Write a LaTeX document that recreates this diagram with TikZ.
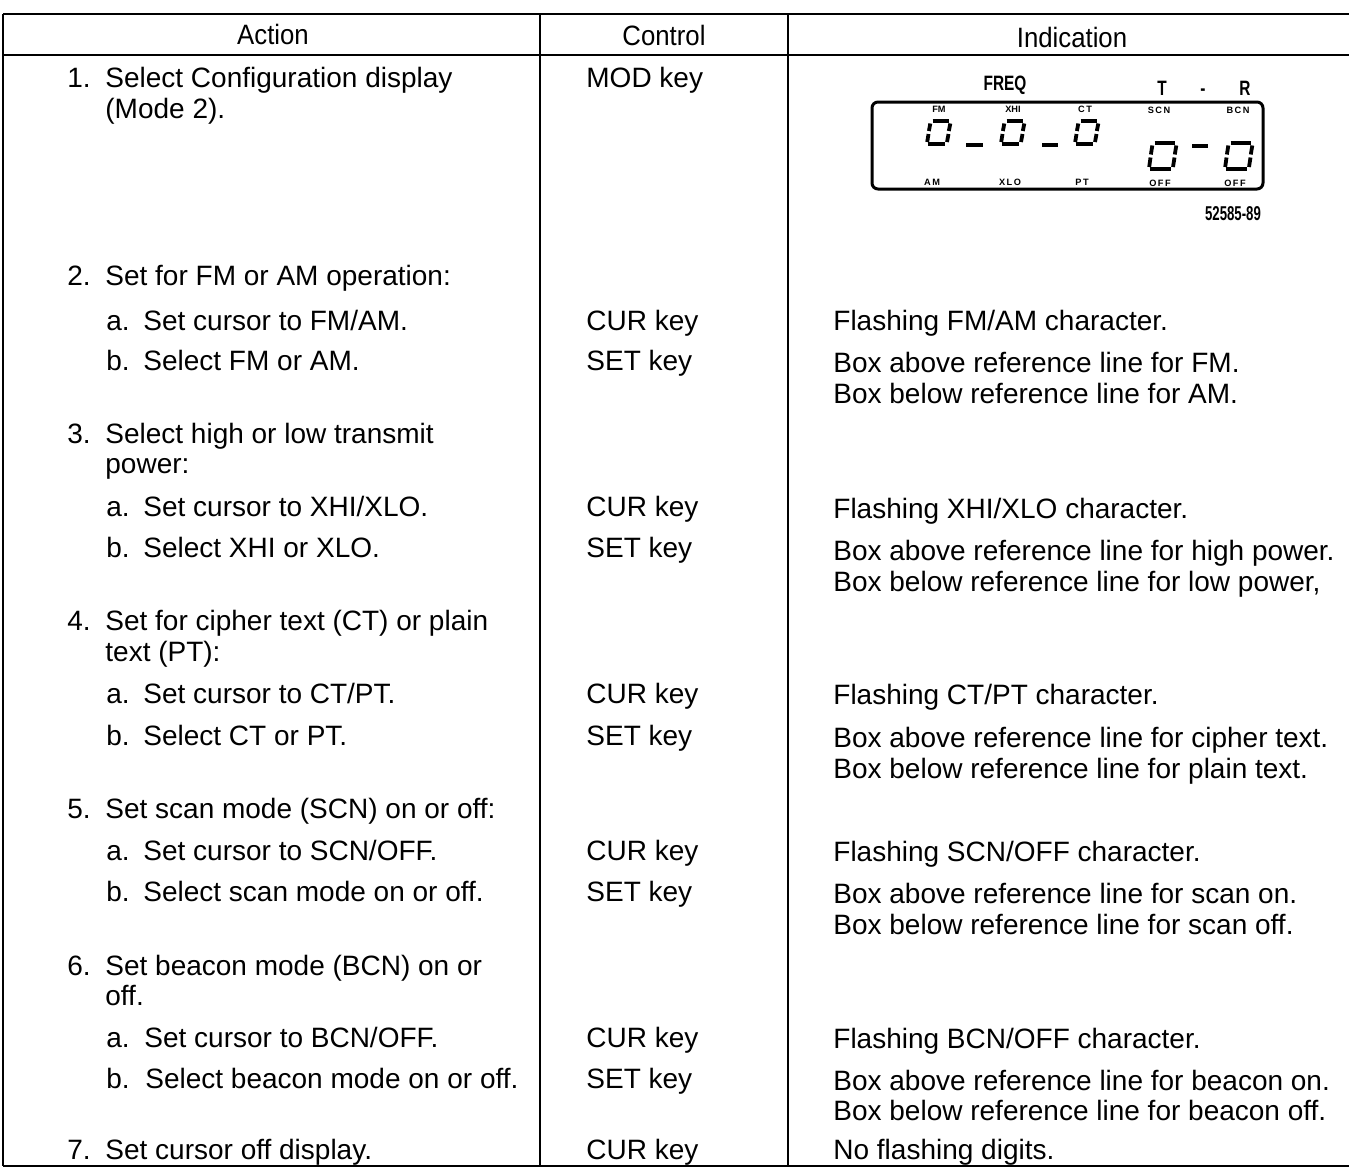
\documentclass[tikz,border=0pt]{standalone}
\usepackage{fontspec}
\setmainfont{Liberation Sans}
\usepackage{tikz}
\usetikzlibrary{positioning}

\tikzset{
  txt/.style={anchor=base west, inner sep=0pt, font=\fontsize{14}{16}\selectfont},
  head/.style={anchor=base, inner sep=0pt, font=\fontsize{14}{16}\selectfont},
  rule/.style={line width=1pt},
  seg/.style={line width=1.9pt},
  lcdlab/.style={anchor=base, inner sep=0pt, font=\bfseries\fontsize{4.6}{5}\selectfont},
  lcdbig/.style={anchor=base, inner sep=0pt, font=\bfseries\fontsize{10.4}{11}\selectfont},
}

\begin{document}
\begin{tikzpicture}[x=0.5pt, y=-0.5pt]
\useasboundingbox (0,0) rectangle (1349,1168);

% table frame
\coordinate (tl) at (3,14);
\coordinate (tr) at (1349,14);
\coordinate (hl) at (3,55);
\coordinate (hr) at (1349,55);
\coordinate (bl) at (3,1166);
\coordinate (br) at (1349,1166);
\coordinate (c1t) at (540,14);
\coordinate (c1b) at (540,1166);
\coordinate (c2t) at (788,14);
\coordinate (c2b) at (788,1166);
\draw[rule] (tl) -- (tr);
\draw[line width=1.4pt] (hl) -- (hr);
\draw[rule] (bl) -- (br);
\draw[line width=0.7pt] (tl) -- (bl);
\draw[rule] (c1t) -- (c1b);
\draw[rule] (c2t) -- (c2b);

% header
\node[head] (hA) at (273,44) {\scalebox{0.92}[1]{Action}};
\node[head] (hC) at (664,45) {\scalebox{0.92}[1]{Control}};
\node[head] (hI) at (1072,47) {\scalebox{0.92}[1]{Indication}};

% action column
\node[txt] (n1) at (67,87) {1.};
\node[txt] (a1) at (105,87) {Select Configuration display};
\node[txt] (a1x) at (105,118) {(Mode 2).};
\node[txt] (n2) at (67,285) {2.};
\node[txt] (a2) at (105,285) {Set for FM or AM operation:};
\node[txt] (n2a) at (106,330) {a.};
\node[txt] (a2a) at (143,330) {Set cursor to FM/AM.};
\node[txt] (n2b) at (106,370) {b.};
\node[txt] (a2b) at (143,370) {Select FM or AM.};
\node[txt] (n3) at (67,443) {3.};
\node[txt] (a3) at (105,443) {Select high or low transmit};
\node[txt] (a3x) at (105,473) {power:};
\node[txt] (n3a) at (106,516) {a.};
\node[txt] (a3a) at (143,516) {Set cursor to XHI/XLO.};
\node[txt] (n3b) at (106,557) {b.};
\node[txt] (a3b) at (143,557) {Select XHI or XLO.};
\node[txt] (n4) at (67,630) {4.};
\node[txt] (a4) at (105,630) {Set for cipher text (CT) or plain};
\node[txt] (a4x) at (105,661) {text (PT):};
\node[txt] (n4a) at (106,703) {a.};
\node[txt] (a4a) at (143,703) {Set cursor to CT/PT.};
\node[txt] (n4b) at (106,745) {b.};
\node[txt] (a4b) at (143,745) {Select CT or PT.};
\node[txt] (n5) at (67,818) {5.};
\node[txt] (a5) at (105,818) {Set scan mode (SCN) on or off:};
\node[txt] (n5a) at (106,860) {a.};
\node[txt] (a5a) at (143,860) {Set cursor to SCN/OFF.};
\node[txt] (n5b) at (106,901) {b.};
\node[txt] (a5b) at (143,901) {Select scan mode on or off.};
\node[txt] (n6) at (67,975) {6.};
\node[txt] (a6) at (105,975) {Set beacon mode (BCN) on or};
\node[txt] (a6x) at (105,1005) {off.};
\node[txt] (n6a) at (106,1047) {a.};
\node[txt] (a6a) at (144,1047) {Set cursor to BCN/OFF.};
\node[txt] (n6b) at (106,1088) {b.};
\node[txt] (a6b) at (145,1088) {Select beacon mode on or off.};
\node[txt] (n7) at (67,1159) {7.};
\node[txt] (a7) at (105,1159) {Set cursor off display.};

% control column
\node[txt] (c1) at (586,87) {MOD key};
\node[txt] (c2a) at (586,330) {CUR key};
\node[txt] (c2b) at (586,370) {SET key};
\node[txt] (c3a) at (586,516) {CUR key};
\node[txt] (c3b) at (586,557) {SET key};
\node[txt] (c4a) at (586,703) {CUR key};
\node[txt] (c4b) at (586,745) {SET key};
\node[txt] (c5a) at (586,860) {CUR key};
\node[txt] (c5b) at (586,901) {SET key};
\node[txt] (c6a) at (586,1047) {CUR key};
\node[txt] (c6b) at (586,1088) {SET key};
\node[txt] (c7) at (586,1159) {CUR key};

% indication column
\node[txt] (i2a) at (833,330) {Flashing FM/AM character.};
\node[txt] (i2b) at (833,372) {Box above reference line for FM.};
\node[txt] (i2c) at (833,403) {Box below reference line for AM.};
\node[txt] (i3a) at (833,518) {Flashing XHI/XLO character.};
\node[txt] (i3b) at (833,560) {Box above reference line for high power.};
\node[txt] (i3c) at (833,591) {Box below reference line for low power,};
\node[txt] (i4a) at (833,704) {Flashing CT/PT character.};
\node[txt] (i4b) at (833,747) {Box above reference line for cipher text.};
\node[txt] (i4c) at (833,778) {Box below reference line for plain text.};
\node[txt] (i5a) at (833,861) {Flashing SCN/OFF character.};
\node[txt] (i5b) at (833,903) {Box above reference line for scan on.};
\node[txt] (i5c) at (833,934) {Box below reference line for scan off.};
\node[txt] (i6a) at (833,1048) {Flashing BCN/OFF character.};
\node[txt] (i6b) at (833,1090) {Box above reference line for beacon on.};
\node[txt] (i6c) at (833,1120) {Box below reference line for beacon off.};
\node[txt] (i7) at (833,1159) {No flashing digits.};

% display
\node[lcdbig] (freq) at (1005,90) {\scalebox{0.74}[1]{FREQ}};
\node[lcdbig] (tT) at (1162,95) {\scalebox{0.74}[1]{T}};
\node[lcdbig] (tD) at (1203,95) {\scalebox{0.74}[1]{-}};
\node[lcdbig] (tR) at (1245,95) {\scalebox{0.74}[1]{R}};
\draw[line width=1.5pt, rounded corners=3pt] (872,102) rectangle (1263,189);
\node[lcdlab] (lFM) at (939,112) {FM};
\node[lcdlab] (lXHI) at (1013,112) {XHI};
\node[lcdlab] (lCT) at (1085,112) {C\,T};
\node[lcdlab] (lSCN) at (1159,113) {S\,C\,N};
\node[lcdlab] (lBCN) at (1238,113) {B\,C\,N};
\node[lcdlab] (lAM) at (932,185) {A\,M};
\node[lcdlab] (lXLO) at (1010,185) {X\,L\,O};
\node[lcdlab] (lPT) at (1082,185) {P\,T};
\node[lcdlab] (lOFFa) at (1160,186) {O\,F\,F};
\node[lcdlab] (lOFFb) at (1235,186) {O\,F\,F};
\foreach \dx/\dy/\dw/\dh in {927/121/20/23, 1001/121/20/23, 1075/121/20/23, 1149/143/24/26, 1225/143/24/26} {
  \draw[seg] ({\dx+5.5},\dy) -- ({\dx+\dw+2},\dy);
  \draw[seg] ({\dx+3.3},{\dy+2.5}) -- ({\dx+1.9},{\dy+\dh/2-1.5});
  \draw[seg] ({\dx+1.5},{\dy+\dh/2+1.5}) -- ({\dx+0.2},{\dy+\dh-2});
  \draw[seg] ({\dx+1},{\dy+\dh}) -- ({\dx+\dw-2.5},{\dy+\dh});
  \draw[seg] ({\dx+\dw},{\dy+\dh-2}) -- ({\dx+\dw+1.5},{\dy+\dh/2+1.5});
  \draw[seg] ({\dx+\dw+1.8},{\dy+\dh/2-1.5}) -- ({\dx+\dw+3.3},{\dy+2.5});
}
\draw[seg] (966,145) -- (983,145);
\draw[seg] (1042,145) -- (1058,145);
\draw[seg] (1192,146) -- (1208,146);
\node[anchor=base, inner sep=0pt, font=\bfseries\fontsize{10}{11}\selectfont] (fig) at (1233,220) {\scalebox{0.66}[1]{52585-89}};
\end{tikzpicture}
\end{document}
